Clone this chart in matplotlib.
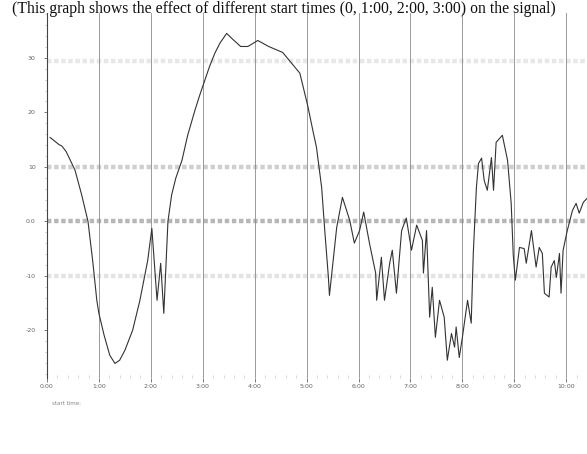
#!/usr/bin/env python3
# Line trace from a scanned figure: one signal vs. time, gray reference bands
import numpy as np
import matplotlib
matplotlib.use("Agg")
import matplotlib.pyplot as plt
from matplotlib.ticker import MultipleLocator

#----------- Data (x in grid units, y in tick units)
time_vals = [0.06, 0.23, 0.29, 0.37, 0.54, 0.67, 0.79, 0.88, 0.96, 1.00,
	1.10, 1.21, 1.31, 1.40, 1.50, 1.65, 1.79, 1.94, 2.02, 2.12,
	2.19, 2.25, 2.33, 2.40, 2.48, 2.60, 2.71, 2.85, 2.94, 3.04,
	3.13, 3.23, 3.33, 3.46, 3.58, 3.73, 3.87, 4.06, 4.27, 4.54,
	4.67, 4.87, 5.02, 5.12, 5.19, 5.29, 5.35, 5.42, 5.44, 5.58,
	5.69, 5.83, 5.92, 6.02, 6.10, 6.21, 6.33, 6.35, 6.44, 6.50,
	6.60, 6.65, 6.73, 6.83, 6.92, 7.02, 7.12, 7.23, 7.25, 7.31,
	7.37, 7.42, 7.48, 7.56, 7.65, 7.71, 7.79, 7.85, 7.88, 7.94,
	8.00, 8.10, 8.17, 8.21, 8.27, 8.31, 8.37, 8.42, 8.48, 8.56,
	8.60, 8.65, 8.77, 8.87, 8.94, 8.98, 9.02, 9.10, 9.19, 9.23,
	9.33, 9.42, 9.48, 9.54, 9.58, 9.67, 9.71, 9.77, 9.81, 9.87,
	9.90, 9.94, 10.02, 10.12, 10.19, 10.25, 10.33, 10.40]
signal_vals = [1.54, 1.41, 1.38, 1.28, 0.94, 0.48, 0.00, -0.72, -1.45, -1.69,
	-2.09, -2.46, -2.61, -2.55, -2.37, -2.00, -1.45, -0.72, -0.13, -1.45,
	-0.77, -1.69, 0.00, 0.48, 0.79, 1.12, 1.58, 2.04, 2.31, 2.59,
	2.84, 3.08, 3.27, 3.45, 3.34, 3.21, 3.21, 3.32, 3.21, 3.10,
	2.95, 2.72, 2.13, 1.67, 1.36, 0.62, -0.17, -1.03, -1.36, -0.11,
	0.44, 0.02, -0.40, -0.17, 0.17, -0.40, -0.95, -1.45, -0.66, -1.45,
	-0.77, -0.53, -1.32, -0.17, 0.06, -0.53, -0.07, -0.35, -0.95, -0.17,
	-1.76, -1.21, -2.13, -1.45, -1.76, -2.55, -2.06, -2.31, -1.94, -2.50,
	-2.13, -1.45, -1.87, -0.59, 0.62, 1.06, 1.16, 0.75, 0.57, 1.17,
	0.57, 1.45, 1.58, 1.12, 0.33, -0.62, -1.08, -0.48, -0.50, -0.77,
	-0.17, -0.84, -0.48, -0.59, -1.32, -1.39, -0.84, -0.72, -1.03, -0.59,
	-1.32, -0.53, -0.17, 0.20, 0.33, 0.15, 0.35, 0.42]

x_ticks = [0, 1, 2, 3, 4, 5, 6, 7, 8, 9, 10]
x_tick_labels = ["0:00", "1:00", "2:00", "3:00", "4:00", "5:00",
	"6:00", "7:00", "8:00", "9:00", "10:00"]
y_ticks = [-2, -1, 0, 1, 2, 3]
y_tick_labels = ["-20", "-10", "0.0", "10", "20", "30"]
band_levels = [-1, 0, 1, 2.95]
band_alpha = [0.35, 0.9, 0.6, 0.3]

title_text = "(This graph shows the effect of different start times (0, 1:00, 2:00, 3:00) on the signal)"

#----------- Figure
fig = plt.figure(figsize=(5.87, 4.54), dpi=100)
ax = fig.add_axes([0.080, 0.167, 0.92, 0.805])

# gray horizontal reference bands
for lev, al in zip(band_levels, band_alpha):
	ax.axhline(lev, color='#b0b0b0', lw=3.2, ls=(0, (1, 0.6)), alpha=al, zorder=1)

# vertical grid
for xt in x_ticks[1:]:
	ax.axvline(xt, color='#8a8a8a', lw=0.6, zorder=2)

ax.plot(time_vals, signal_vals, color='#333333', lw=0.8, zorder=3)

ax.set_xlim(0, 10.4)
ax.set_ylim(-2.88, 3.83)
for side in ['top', 'right', 'bottom']:
	ax.spines[side].set_visible(False)
ax.spines['left'].set_color('#444444')
ax.spines['left'].set_linewidth(0.8)

ax.set_xticks(x_ticks)
ax.set_xticklabels(x_tick_labels, fontsize=4.5, color='#666666')
ax.set_yticks(y_ticks)
ax.set_yticklabels(y_tick_labels, fontsize=4.5, color='#666666')
ax.xaxis.set_minor_locator(MultipleLocator(0.2))
ax.yaxis.set_minor_locator(MultipleLocator(0.2))
ax.tick_params(axis='x', which='major', length=3, width=0.6, color='#666666', pad=1)
ax.tick_params(axis='x', which='minor', length=2, width=0.4, color='#bbbbbb', direction='in')
ax.tick_params(axis='y', which='major', length=2, width=0.6, color='#666666', pad=6)
ax.tick_params(axis='y', which='minor', length=1.5, width=0.4, color='#aaaaaa')

# faint caption under the axis
fig.text(0.088, 0.108, "start time:", fontsize=4, color='#888888')

# title line across the top
fig.text(0.02, 0.998, title_text, fontsize=11.3, family='Liberation Serif',
	color='#111111', ha='left', va='top')

plt.savefig('out.png', dpi=100)
plt.close()
